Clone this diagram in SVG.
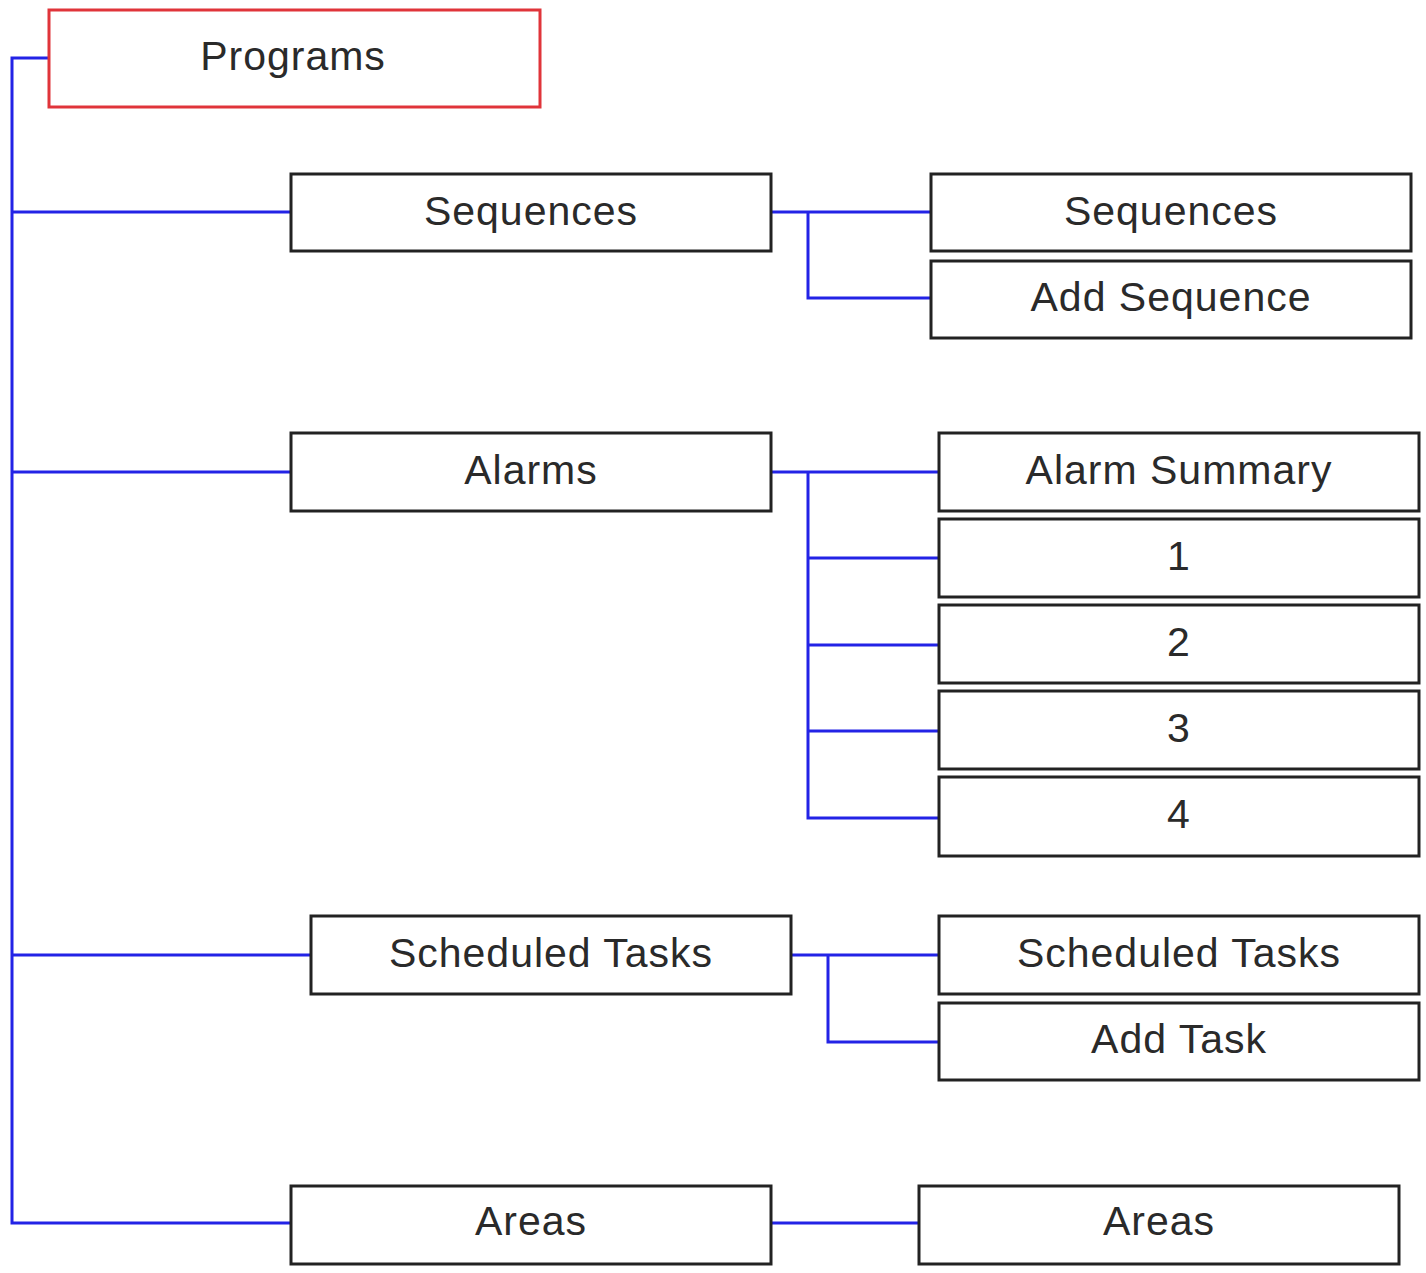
<svg xmlns="http://www.w3.org/2000/svg" width="1426" height="1273" viewBox="0 0 1426 1273">
<style>
.n rect{fill:#fff;stroke:#222;stroke-width:3}
.n text{font-family:"Liberation Sans",Arial,sans-serif;font-size:41px;fill:#2a2a2a;text-anchor:middle;letter-spacing:1px}
#programs rect{stroke:#e0343a}
.c path{fill:none;stroke:#2323e6;stroke-width:3}
</style>
<rect width="1426" height="1273" fill="#fff"/>
<g class="c" id="connectors">
<path d="M49,58 H12 V1223 H291"/>
<path d="M12,212 H291"/>
<path d="M12,472 H291"/>
<path d="M12,955 H311"/>
<path d="M771,212 H931 M808,212 V298 H931"/>
<path d="M771,472 H939 M808,472 V818 H939 M808,558 H939 M808,645 H939 M808,731 H939"/>
<path d="M791,955 H939 M828,955 V1042 H939"/>
<path d="M771,1223 H919"/>
</g>
<g class="n" id="programs"><rect x="49" y="10" width="491" height="97"/><text x="293" y="70">Programs</text></g>
<g class="n" id="sequences"><rect x="291" y="174" width="480" height="77"/><text x="531" y="225">Sequences</text></g>
<g class="n" id="sequences2"><rect x="931" y="174" width="480" height="77"/><text x="1171" y="225">Sequences</text></g>
<g class="n" id="addsequence"><rect x="931" y="261" width="480" height="77"/><text x="1171" y="311">Add Sequence</text></g>
<g class="n" id="alarms"><rect x="291" y="433" width="480" height="78"/><text x="531" y="484">Alarms</text></g>
<g class="n" id="alarmsummary"><rect x="939" y="433" width="480" height="78"/><text x="1179" y="484">Alarm Summary</text></g>
<g class="n" id="a1"><rect x="939" y="519" width="480" height="78"/><text x="1179" y="570">1</text></g>
<g class="n" id="a2"><rect x="939" y="605" width="480" height="78"/><text x="1179" y="656">2</text></g>
<g class="n" id="a3"><rect x="939" y="691" width="480" height="78"/><text x="1179" y="742">3</text></g>
<g class="n" id="a4"><rect x="939" y="777" width="480" height="79"/><text x="1179" y="828">4</text></g>
<g class="n" id="scheduled"><rect x="311" y="916" width="480" height="78"/><text x="551" y="967">Scheduled Tasks</text></g>
<g class="n" id="scheduled2"><rect x="939" y="916" width="480" height="78"/><text x="1179" y="967">Scheduled Tasks</text></g>
<g class="n" id="addtask"><rect x="939" y="1003" width="480" height="77"/><text x="1179" y="1053">Add Task</text></g>
<g class="n" id="areas"><rect x="291" y="1186" width="480" height="78"/><text x="531" y="1235">Areas</text></g>
<g class="n" id="areas2"><rect x="919" y="1186" width="480" height="78"/><text x="1159" y="1235">Areas</text></g>
</svg>
